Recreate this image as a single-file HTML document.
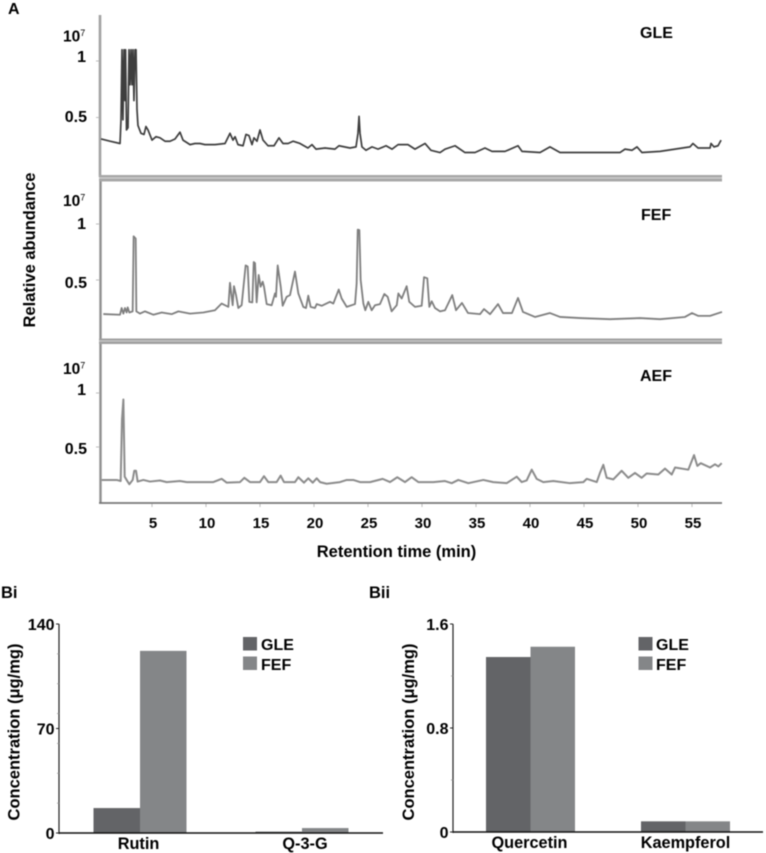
<!DOCTYPE html>
<html lang="en">
<head>
<meta charset="utf-8">
<title>Chromatograms and flavonoid concentrations</title>
<style>
html,body{margin:0;padding:0;background:#fff;}
body{width:766px;height:853px;overflow:hidden;}
svg{display:block;filter:blur(0.45px);font-family:"Liberation Sans",sans-serif;font-weight:bold;fill:#000;}
text{font-size:16px;}
</style>
</head>
<body>
<svg id="figure" xmlns="http://www.w3.org/2000/svg" width="766" height="853" viewBox="0 0 766 853">
  <rect x="0" y="0" width="766" height="853" fill="#fff"/>
  <text x="8" y="14">A</text>
  <text x="1" y="598" style="font-size:16.5px">Bi</text>
  <text x="369" y="598" style="font-size:16.5px">Bii</text>

  <g fill="none">
    <path d="M100 15V177" stroke="#a2a2a2" stroke-width="2.6"/>
    <path d="M100.5 180V340" stroke="#8f8f8f" stroke-width="2.4"/>
    <path d="M100.5 344V503" stroke="#8f8f8f" stroke-width="2.4"/>
    <rect x="99" y="175" width="623" height="6.5" fill="#a8a8a8" stroke="none"/>
    <rect x="99" y="177.5" width="623" height="1" fill="#d8d8d8" stroke="none"/>
    <rect x="99" y="338.5" width="623" height="5.5" fill="#a0a0a0" stroke="none"/>
    <rect x="99" y="340.5" width="623" height="1" fill="#cfcfcf" stroke="none"/>
    <path d="M99 503H722" stroke="#777" stroke-width="1.8"/>
  </g>

  <g>
    <text x="63" y="41.5" style="font-size:15.5px">10<tspan style="font-size:9px;font-weight:normal" dy="-5.5">7</tspan></text>
    <text x="86" y="62" text-anchor="end">1</text>
    <text x="87" y="122" text-anchor="end">0.5</text>
  </g>
  <g>
    <text x="63" y="206" style="font-size:15.5px">10<tspan style="font-size:9px;font-weight:normal" dy="-5.5">7</tspan></text>
    <text x="86" y="229" text-anchor="end">1</text>
    <text x="87" y="288" text-anchor="end">0.5</text>
  </g>
  <g>
    <text x="63" y="374" style="font-size:15.5px">10<tspan style="font-size:9px;font-weight:normal" dy="-5.5">7</tspan></text>
    <text x="86" y="395" text-anchor="end">1</text>
    <text x="87" y="454" text-anchor="end">0.5</text>
  </g>

  <text x="640" y="38">GLE</text>
  <text x="641" y="220">FEF</text>
  <text x="640" y="381">AEF</text>

  <text transform="translate(35 250) rotate(-90)" text-anchor="middle" style="font-size:16.5px">Relative abundance</text>
  <text x="396.5" y="557" text-anchor="middle" style="font-size:16.5px">Retention time (min)</text>

  <text transform="translate(19.5 732) rotate(-90)" text-anchor="middle" style="font-size:16.5px">Concentration (μg/mg)</text>
  <text transform="translate(414 732) rotate(-90)" text-anchor="middle" style="font-size:16.5px">Concentration (μg/mg)</text>

  <g>
    <rect x="243" y="637" width="14" height="13.5" fill="#636467"/>
    <text x="261" y="650">GLE</text>
    <rect x="243" y="656.5" width="14" height="13.5" fill="#848688"/>
    <text x="261" y="670">FEF</text>
  </g>
  <g>
    <rect x="638.5" y="637" width="14" height="13.5" fill="#636467"/>
    <text x="656" y="650">GLE</text>
    <rect x="638.5" y="656.5" width="14" height="13.5" fill="#848688"/>
    <text x="656" y="670">FEF</text>
  </g>
</svg>
<script>
const gleTimes = [0.28,1.11,2.04,2.13,2.22,2.31,2.41,2.5,2.55,2.64,2.78,2.87,2.96,3.06,3.15,3.24,3.33,3.43,3.52,3.61,3.7,3.98,4.26,4.44,4.63,5,5.37,5.74,6.2,6.67,7.13,7.59,7.87,8.52,8.98,9.44,9.91,10.83,11.76,12.22,12.5,12.69,12.96,13.43,13.7,13.98,14.26,14.44,14.72,15,15.28,15.74,16.3,16.76,17.13,17.6,18.06,18.7,19.44,19.81,20.19,21.02,21.94,22.31,23.33,23.89,24.07,24.17,24.26,24.44,24.81,25.37,25.93,26.67,27.22,27.78,28.7,29.35,30.28,30.83,31.67,32.13,33.06,33.98,34.91,35.83,36.48,37.69,38.89,39.26,40.93,41.85,42.78,44.63,46.48,48.33,48.8,49.44,49.91,50.37,52.04,53.43,54.81,55.09,55.56,56.67,56.76,57.04,57.41,57.69];
const gleValues = [0.31,0.29,0.27,0.48,1.1,0.48,1.1,0.65,1.1,0.39,0.41,1.1,0.79,1.1,0.79,1.1,0.65,1.1,1.1,0.57,0.43,0.36,0.35,0.42,0.39,0.3,0.33,0.32,0.29,0.29,0.31,0.37,0.3,0.26,0.27,0.27,0.26,0.26,0.27,0.36,0.3,0.33,0.26,0.25,0.35,0.34,0.26,0.32,0.29,0.39,0.3,0.25,0.25,0.32,0.27,0.27,0.29,0.27,0.23,0.26,0.22,0.23,0.22,0.25,0.23,0.24,0.36,0.51,0.36,0.24,0.21,0.24,0.22,0.25,0.22,0.26,0.26,0.22,0.27,0.21,0.19,0.22,0.25,0.19,0.19,0.23,0.2,0.2,0.25,0.2,0.19,0.24,0.19,0.19,0.19,0.19,0.22,0.21,0.24,0.19,0.2,0.22,0.24,0.27,0.23,0.23,0.27,0.24,0.25,0.3];

const fefTimes = [0.49,2.04,2.19,2.35,2.5,2.65,2.75,2.9,3.21,3.3,3.49,3.55,3.89,4.35,5.12,5.9,6.82,7.44,8.52,9.75,10.83,11.45,12.07,12.22,12.47,12.59,12.78,12.99,13.3,13.67,13.86,14.01,14.29,14.42,14.54,14.69,14.88,15.06,15.25,15.37,15.62,16.08,16.39,16.48,16.64,16.92,17.1,17.47,17.78,18.24,18.55,19.01,19.26,19.47,19.69,20.09,20.25,20.71,21.48,21.79,22.29,22.56,23.03,23.8,23.95,24.05,24.2,24.32,24.57,24.75,25.03,25.34,25.65,26.11,26.51,26.82,27.19,27.66,27.81,28.12,28.58,28.82,29.35,29.97,30.19,30.49,30.68,30.9,31.2,31.67,32.13,32.8,33.15,33.7,34.26,35.37,35.74,36.3,37.04,37.5,38.33,38.89,39.35,40.46,41.85,42.78,44.63,47.41,50.19,52.04,54.35,55,55.56,56.67,57.78];
const fefValues = [0.196,0.19,0.25,0.2,0.25,0.21,0.255,0.21,0.22,0.89,0.87,0.22,0.2,0.22,0.19,0.21,0.195,0.22,0.2,0.21,0.23,0.29,0.26,0.475,0.275,0.445,0.365,0.25,0.275,0.63,0.62,0.305,0.3,0.66,0.65,0.3,0.545,0.44,0.485,0.44,0.285,0.275,0.38,0.35,0.63,0.44,0.27,0.35,0.365,0.575,0.38,0.26,0.25,0.36,0.26,0.25,0.285,0.27,0.305,0.29,0.415,0.335,0.26,0.285,0.47,0.95,0.945,0.5,0.29,0.23,0.305,0.23,0.275,0.285,0.375,0.35,0.22,0.275,0.38,0.335,0.445,0.305,0.26,0.27,0.525,0.515,0.26,0.31,0.25,0.22,0.23,0.365,0.23,0.295,0.205,0.195,0.24,0.195,0.285,0.205,0.205,0.34,0.215,0.17,0.205,0.17,0.16,0.15,0.16,0.15,0.17,0.205,0.18,0.18,0.215];

const aefTimes = [0.34,1.73,2.1,2.22,2.35,2.47,2.65,2.9,3.21,3.36,3.52,3.67,4.2,4.81,5.74,6.36,7.59,8.21,10.68,11.45,11.92,13.15,13.55,14.07,15,15.37,15.77,16.54,16.91,17.22,18.24,18.55,19.07,19.47,19.88,20.25,20.56,21.17,22.41,23.03,23.64,24.26,25.19,26.36,27.04,27.71,28.43,29.04,29.66,31.05,32.13,32.75,33.36,34.29,35.68,36.6,37.84,38.77,39.23,39.69,40.16,40.62,41.23,42.16,43.7,44.94,45.25,46.18,46.48,46.79,47.1,47.71,48.49,49.1,49.72,50.34,50.8,51.88,52.5,53.12,53.43,54.66,55.19,55.49,55.81,56.67,57.13,57.44,57.75];
const aefValues = [0.195,0.195,0.185,0.75,0.94,0.225,0.195,0.155,0.195,0.28,0.28,0.18,0.195,0.18,0.19,0.175,0.185,0.175,0.175,0.205,0.17,0.175,0.215,0.175,0.175,0.23,0.175,0.175,0.235,0.175,0.175,0.22,0.17,0.21,0.17,0.21,0.175,0.16,0.175,0.195,0.195,0.175,0.175,0.205,0.175,0.22,0.175,0.22,0.175,0.175,0.185,0.165,0.195,0.165,0.195,0.175,0.165,0.225,0.175,0.19,0.29,0.205,0.175,0.185,0.165,0.175,0.205,0.175,0.26,0.335,0.215,0.2,0.28,0.215,0.26,0.215,0.255,0.245,0.3,0.245,0.31,0.29,0.425,0.325,0.35,0.31,0.34,0.32,0.35];

const timeTicks = [5,10,15,20,25,30,35,40,45,50,55];
const abundanceTicks = [0.5,1];

const biCategories = ["Rutin","Q-3-G"];
const biGle = [16.7,0.9];
const biFef = [122,3.3];
const biTicks = [0,70,140];
const biMinorTicks = [20,40,60,80,100,120];

const biiCategories = ["Quercetin","Kaempferol"];
const biiGle = [1.346,0.082];
const biiFef = [1.425,0.082];
const biiTicks = ["0","0.8","1.6"];
const biiMinorTicks = [0.4,1.2];

const NS = "http://www.w3.org/2000/svg";
const figure = document.getElementById("figure");

function xTime(t){ return 98 + t * 10.8; }
function yGle(v){ return 174 - v * 113; }
function yFef(v){ return 336 - v * 112; }
function yAef(v){ return 501 - v * 108; }
function yBi(v){ return 833 - v * 209 / 140; }
function yBii(v){ return 832 - v * 130; }

function make(tag, props){
  const node = document.createElementNS(NS, tag);
  Object.keys(props).forEach(function(k){ node.setAttribute(k, props[k]); });
  figure.appendChild(node);
  return node;
}

function traceD(times, values, yFn){
  return times.map(function(t, i){
    return (i ? "L" : "M") + xTime(t).toFixed(2) + " " + yFn(values[i]).toFixed(2);
  }).join("");
}

let el;
el = make("path", {d: traceD(gleTimes, gleValues, yGle), fill: "none", stroke: "#3e3e3e", "stroke-width": 1.7, "stroke-linejoin": "round"});


el = make("path", {d: traceD(fefTimes, fefValues, yFef), fill: "none", stroke: "#7f7f7f", "stroke-width": 1.8, "stroke-linejoin": "round"});


el = make("path", {d: traceD(aefTimes, aefValues, yAef), fill: "none", stroke: "#8c8c8c", "stroke-width": 2, "stroke-linejoin": "round"});



[yGle, yFef, yAef].forEach(function(yFn){
  abundanceTicks.forEach(function(v){
    const tick = make("line", {x1: 96, x2: 99, y1: yFn(v), y2: yFn(v), stroke: "#bbb", "stroke-width": 1});
    
    
  });
});

timeTicks.forEach(function(t){
  const tick = make("line", {x1: xTime(t), x2: xTime(t), y1: 504, y2: 507, stroke: "#bbb", "stroke-width": 1});
  
  
  const label = make("text", {x: xTime(t) + 1, y: 528, "text-anchor": "middle", style: "font-size:15px"});
  label.textContent = String(t);
  
  
});

function barChart(prefix, cfg){
  const band = (cfg.right - cfg.left) / cfg.categories.length;
  cfg.categories.forEach(function(cat, i){
    const cx = cfg.left + band * (i + 0.5);
    const gleBar = make("rect", {x: cx - cfg.barW, width: cfg.barW, y: cfg.y(cfg.gle[i]), height: cfg.y(0) - cfg.y(cfg.gle[i]), fill: "#636467"});
    
    
    const fefBar = make("rect", {x: cx, width: cfg.barW, y: cfg.y(cfg.fef[i]), height: cfg.y(0) - cfg.y(cfg.fef[i]), fill: "#848688"});
    
    
    const catLabel = make("text", {x: cx + cfg.labelShift[i], y: cfg.labelY, "text-anchor": "middle", style: "font-size:16.3px"});
    catLabel.textContent = cat;
    
    
  });
  const yAxis = make("line", {x1: cfg.left, x2: cfg.left, y1: cfg.y(cfg.max), y2: cfg.y(0) + 1, stroke: "#222", "stroke-width": 1.2});
  
  
  const xAxis = make("line", {x1: cfg.left, x2: cfg.right, y1: cfg.y(0), y2: cfg.y(0), stroke: "#111", "stroke-width": 1.6});
  
  
  cfg.ticks.forEach(function(t){
    const v = Number(t);
    const tick = make("line", {x1: cfg.left - 3, x2: cfg.left, y1: cfg.y(v), y2: cfg.y(v), stroke: "#222", "stroke-width": 1});
    
    
    const label = make("text", {x: cfg.labelX, y: cfg.y(v) + 6, "text-anchor": "end"});
    label.textContent = String(t);
    
    
  });
  cfg.minor.forEach(function(v){
    const tick = make("line", {x1: cfg.left - 2, x2: cfg.left, y1: cfg.y(v), y2: cfg.y(v), stroke: "#999", "stroke-width": 0.8});
    
    
  });
}

barChart("bi", {categories: biCategories, gle: biGle, fef: biFef, ticks: biTicks, minor: biMinorTicks, y: yBi, max: 140, left: 59, right: 383, barW: 46.5, labelX: 54.5, labelY: 849, labelShift: [-1.5, 3]});
barChart("bii", {categories: biiCategories, gle: biiGle, fef: biiFef, ticks: biiTicks, minor: biiMinorTicks, y: yBii, max: 1.6, left: 453, right: 763, barW: 44.5, labelX: 448.5, labelY: 848, labelShift: [-1, 0]});
</script>
</body>
</html>
